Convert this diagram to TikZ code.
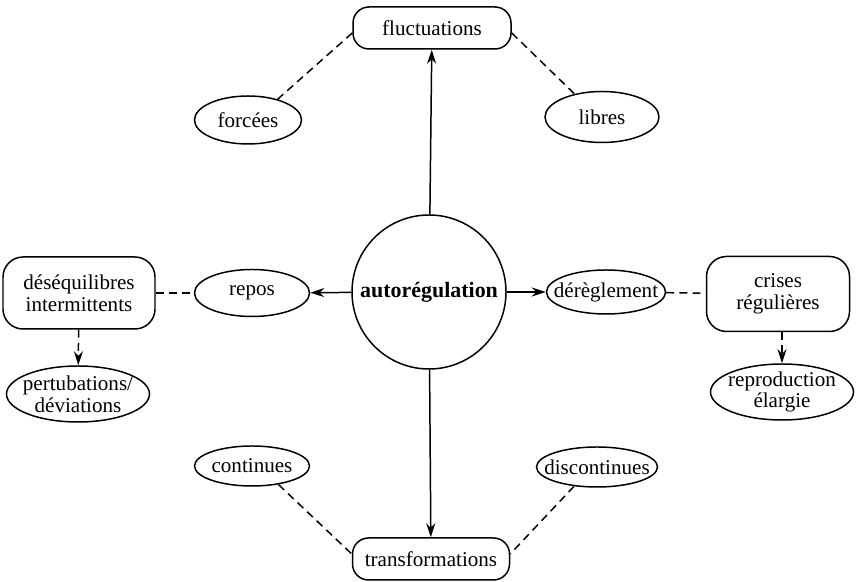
\documentclass[tikz,border=0pt]{standalone}
\usepackage{fontspec}
\setmainfont{Liberation Serif}
\usetikzlibrary{shapes.geometric, arrows.meta}

\begin{document}
\begin{tikzpicture}[line width=0.85pt,
  font=\fontsize{12}{12.4}\selectfont,
  oval/.style={draw, ellipse, inner xsep=-1cm, inner ysep=-0.5cm, align=center},
  rbox/.style={draw, rectangle, rounded corners=0.32cm, inner sep=0pt, align=center},
  link/.style={dash pattern=on 4.5pt off 3pt},
  arr/.style={-{Stealth[length=2.8mm, width=1.8mm]}}]
  \useasboundingbox (0,0) rectangle (17.12,11.64);

  % centre
  \node[draw, circle, minimum size=3.08cm, inner sep=0pt, font=\fontsize{12.5}{13}\selectfont\bfseries] (auto) at (8.58,5.80) {autorégulation};

  % top
  \node[rbox, minimum width=3.16cm, minimum height=0.84cm] (fluct) at (8.64,11.08) {fluctuations};
  \node[oval, minimum width=2.14cm, minimum height=0.96cm] (forcees) at (4.96,9.24) {forcées};
  \node[oval, minimum width=2.28cm, minimum height=1.02cm] (libres) at (12.04,9.30) {libres};

  % left
  \node[oval, minimum width=2.30cm, minimum height=0.94cm] (repos) at (5.04,5.78) {repos};
  \node[rbox, rounded corners=0.4cm, minimum width=3.04cm, minimum height=1.44cm] (deseq) at (1.58,5.78) {déséquilibres\\intermittents};
  \node[oval, minimum width=2.86cm, minimum height=1.12cm] (pertub) at (1.56,3.76) {pertubations/\\déviations};

  % right
  \node[oval, minimum width=2.38cm, minimum height=0.88cm] (dereg) at (12.12,5.80) {dérèglement};
  \node[rbox, rounded corners=0.4cm, minimum width=2.86cm, minimum height=1.5cm] (crises) at (15.56,5.76) {crises\\régulières};
  \node[oval, minimum width=2.86cm, minimum height=1.12cm] (repro) at (15.64,3.80) {reproduction\\élargie};

  % bottom
  \node[oval, minimum width=2.30cm, minimum height=0.8cm] (cont) at (5.04,2.32) {continues};
  \node[oval, minimum width=2.42cm, minimum height=0.8cm] (discont) at (11.94,2.30) {discontinues};
  \node[rbox, minimum width=3.14cm, minimum height=0.84cm] (transf) at (8.62,0.46) {transformations};

  % arrows from the centre
  \draw[arr] (auto) -- (fluct);
  \draw[arr] (auto) -- (transf);
  \draw[arr] (auto) -- (repos);
  \draw[arr] (auto) -- (dereg);

  % dashed links
  \draw[link] ([yshift=-0.1cm]fluct.west) -- (forcees.35);
  \draw[link] ([yshift=-0.1cm]fluct.east) -- (libres.140);
  \draw[link] (cont.-35) -- ([yshift=0.1cm]transf.west);
  \draw[link] (discont.-140) -- ([yshift=0.1cm]transf.east);
  \draw[link] (deseq) -- (repos);
  \draw[link] (dereg) -- (crises);
  \draw[link, arr] (deseq) -- (pertub);
  \draw[link, arr] (crises.south -| repro) -- (repro);
\end{tikzpicture}
\end{document}
